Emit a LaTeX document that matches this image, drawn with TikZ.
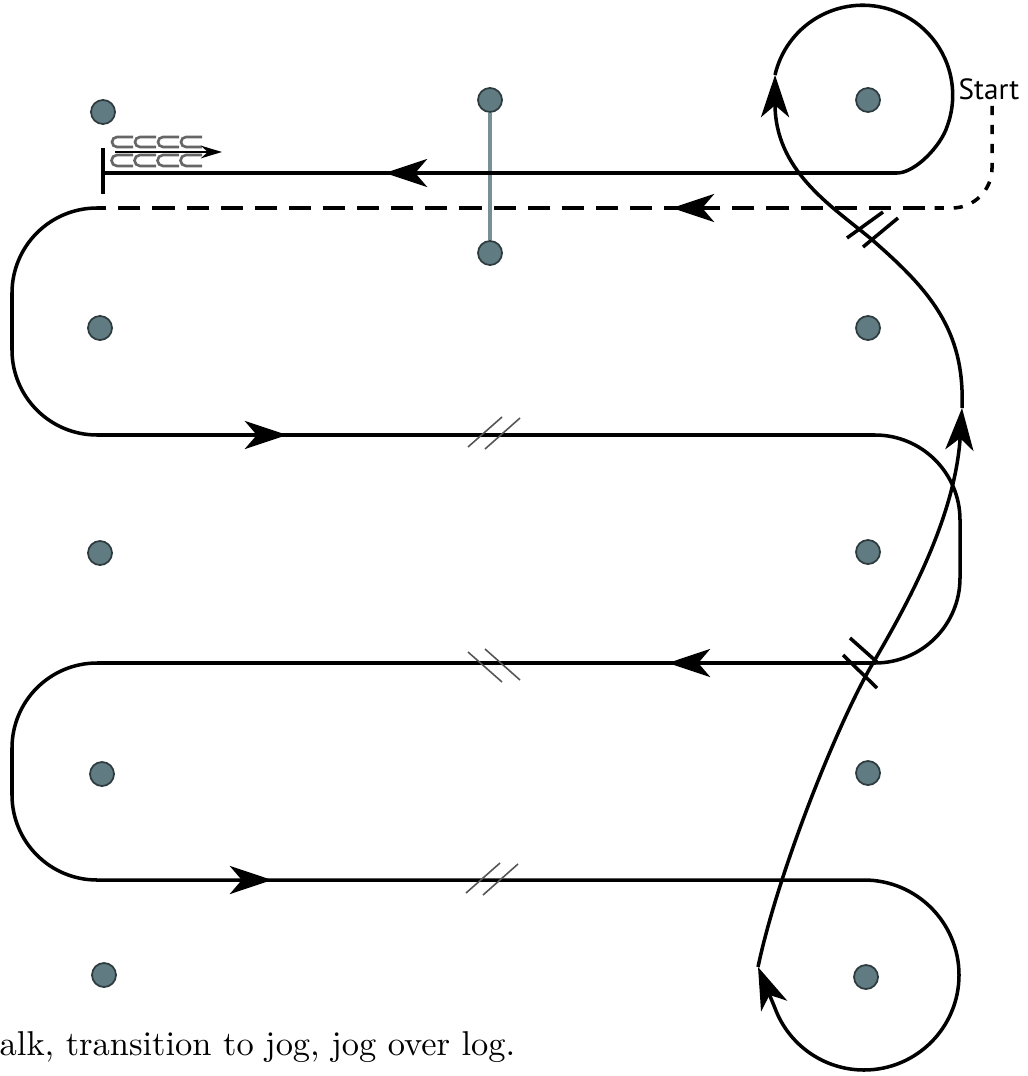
\documentclass[tikz,border=0pt]{standalone}
\usepackage{fontspec}
\newfontfamily\startfont{PT Sans}
\usetikzlibrary{arrows.meta}
\definecolor{conefill}{RGB}{96,124,130}
\definecolor{coneedge}{RGB}{45,58,62}
\definecolor{slashgrey}{RGB}{85,85,85}
\tikzset{
  cone/.style={circle,draw=coneedge,fill=conefill,line width=0.5pt,minimum size=0.24cm,inner sep=0pt},
  track/.style={line width=1pt,line join=round},
  walkline/.style={line width=1pt,dash pattern=on 6.3pt off 3.4pt},
  startline/.style={line width=1pt,dash pattern=on 2.6pt off 2.8pt},
  arrowhead/.style={-{Stealth[length=12pt,width=8pt,inset=3.4pt]}},
  tick/.style={line width=1pt},
  slash/.style={line width=0.45pt,draw=slashgrey},
  shoe/.style={line width=0.75pt,draw=black!60},
}
\begin{document}
\begin{tikzpicture}[x=0.01cm,y=0.01cm]
      \useasboundingbox (0,0) rectangle (1027,-1076);
      \draw
        (103,-112) node[cone] (l1){}
        (100,-328) node[cone] (l2){}
        (100,-553) node[cone] (l3){}
        (102,-774) node[cone] (l4){}
        (104,-975) node[cone] (l5){}
        (490,-100) node[cone] (m1){}
        (490,-253) node[cone] (m2){}
        (868,-100) node[cone] (r1){}
        (868,-328) node[cone] (r2){}
        (868,-552) node[cone] (r3){}
        (868,-773) node[cone] (r4){}
        (866,-977) node[cone] (r5){};
      \draw[line width=1pt,draw=conefill!85] (m1.south) to (m2.north);
      \node[anchor=base west,inner sep=0pt,font=\startfont\fontsize{8.3}{10}\selectfont] (start) at (958,-100) {Start};
      \node[anchor=base west,inner sep=0pt,font=\fontsize{9.8}{12}\selectfont] (caption) at (-1,-1055) {alk, transition to jog, jog over log.};
      \begin{scope}
        \draw[startline,rounded corners=0.4cm] (992,-106) -- (992,-208) -- (925,-208);
        \draw[walkline] (925,-208) -- (100,-208);
        \draw[track,rounded corners=0.85cm] (100,-208) -- (12,-208) -- (12,-435) -- (960,-435) -- (960,-663) -- (12,-663) -- (12,-880) -- (864,-880);
        \draw[track,arrowhead] (864,-880) arc[start angle=90,end angle=-160,radius=95] -- (758,-967);
        \draw[track,arrowhead] (758,-967) .. controls (778,-872) and (838,-722) .. (873,-663)
          .. controls (904,-610) and (955,-520) .. (962,-408);
        \draw[track,arrowhead] (962,-408) .. controls (965,-330) and (930,-290) .. (870,-238)
          .. controls (830,-205) and (775,-170) .. (775,-75);
        \draw[track] (775,-75) arc[start angle=167,end angle=-20,radius=90]
          .. controls (941,-146) and (915,-173) .. (897,-173) -- (103,-173);
      \end{scope}
      \begin{scope}[track,arrowhead]
        \draw (415,-173) -- (385,-173);
        \draw (702,-208) -- (672,-208);
        \draw (257,-435) -- (287,-435);
        \draw (698,-663) -- (668,-663);
        \draw (242,-880) -- (272,-880);
      \end{scope}
      \draw[line width=1.3pt] (103,-148) -- (103,-194);
      \foreach \x in {112,135,158,181} {
        \draw[shoe] (\x+21,-137) -- (\x+5,-137) arc[start angle=90,end angle=270,radius=5] -- (\x+21,-147);
        \draw[shoe] (\x+21,-155) -- (\x+5,-155) arc[start angle=90,end angle=270,radius=5.5] -- (\x+21,-166);
      }
      \draw[line width=0.6pt,-{Stealth[length=6pt,width=3.6pt]}] (115,-152) -- (222,-152);
      \begin{scope}[tick]
        \draw (847,-238) -- (883,-212);
        \draw (863,-247) -- (898,-218);
        \draw (850,-638) -- (877,-662);
        \draw (843,-655) -- (877,-688);
      \end{scope}
      \begin{scope}[slash]
        \draw (468,-447) -- (502,-417);
        \draw (485,-449) -- (520,-418);
        \draw (468,-652) -- (502,-682);
        \draw (485,-649) -- (520,-680);
        \draw (466,-893) -- (500,-863);
        \draw (483,-895) -- (518,-864);
      \end{scope}
    \end{tikzpicture}
\end{document}
